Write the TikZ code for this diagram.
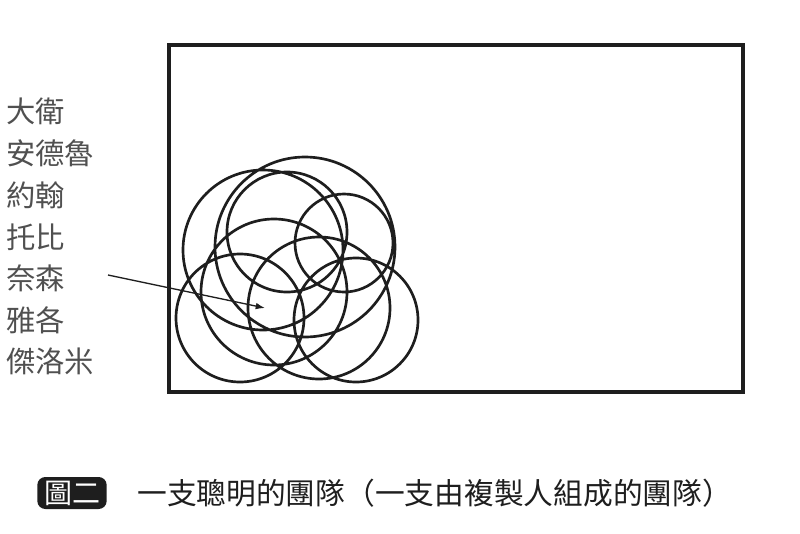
\documentclass[tikz,border=0pt]{standalone}
\usepackage{fontspec}
\usetikzlibrary{arrows.meta}
\newfontfamily\cjk{Noto Sans CJK TC}
\definecolor{ink}{HTML}{1E1E1E}
\definecolor{namegray}{HTML}{505050}
\begin{document}
\begin{tikzpicture}[x=0.75pt, y=-0.75pt, every node/.append style={font=\cjk\fontsize{22}{26}\selectfont}]

    \useasboundingbox (0,0) rectangle (800,533);

    \def\lw{2pt}      % Line width of the circles

    \draw[line width=2.7pt, ink]
        (169,45) rectangle (743,392)        % Frame round the team
    ;

    \draw[line width=\lw, ink]
        (263,250) circle (80)
        (305,247) circle (90)
        (287,232) circle (60)
        (344,243) circle (49)
        (274,292) circle (73)
        (240,318) circle (64)
        (319,308) circle (71)
        (356,320) circle (62)
    ;

    \node[anchor=west, inner sep=0, text=namegray] (david)  at (6,111) {大衛};
    \node[anchor=west, inner sep=0, text=namegray] (andrew) at (6,153) {安德魯};
    \node[anchor=west, inner sep=0, text=namegray] (john)   at (6,195) {約翰};
    \node[anchor=west, inner sep=0, text=namegray] (toby)   at (6,237) {托比};
    \node[anchor=west, inner sep=0, text=namegray] (nathan) at (6,278) {奈森};
    \node[anchor=west, inner sep=0, text=namegray] (jacob)  at (6,320) {雅各};
    \node[anchor=west, inner sep=0, text=namegray] (jeremy) at (6,361) {傑洛米};

    \coordinate (tail) at (108,275);
    \coordinate (hit)  at (265,308);
    \draw[line width=1pt, ink, -{Latex[length=7pt, width=5pt]}]
        (tail) -- (hit)     % Point from the names into the crowd of circles
    ;

    \node[fill=ink, text=white, rounded corners=6pt, inner xsep=5pt, inner ysep=0pt,
          minimum height=24pt, font=\cjk\fontsize{21}{25}\selectfont] (figtag) at (72,493) {圖二};
    \node[anchor=west, inner sep=0, text=ink, font=\cjk\fontsize{22.3}{26}\selectfont]
        (caption) at (137,493) {一支聰明的團隊（一支由複製人組成的團隊）};

\end{tikzpicture}
\end{document}
